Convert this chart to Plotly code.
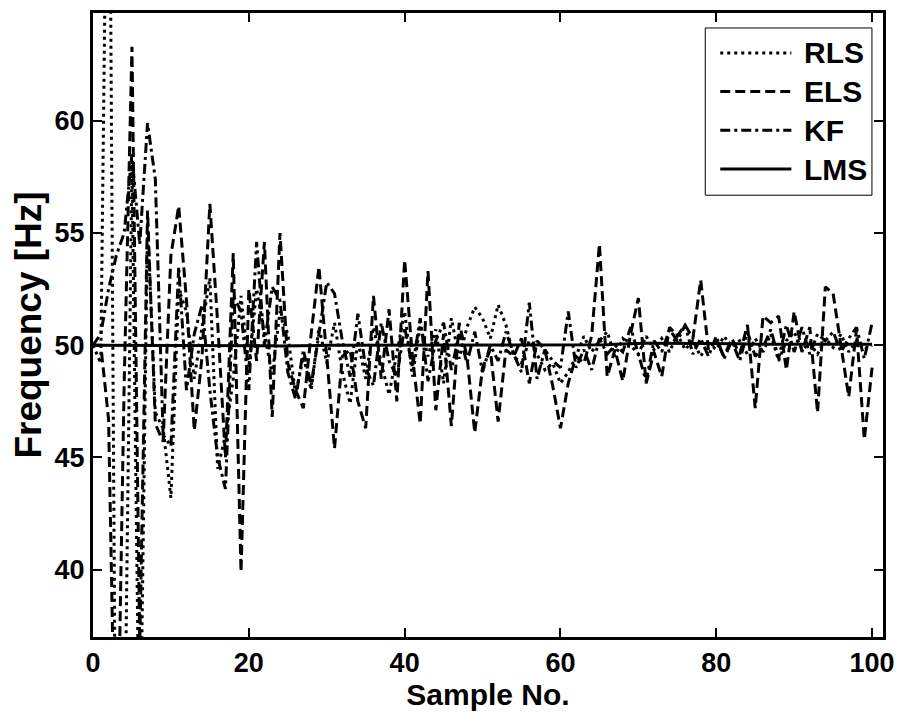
import plotly.graph_objects as go

samples = list(range(0, 101))

rls = [50.0, 49.2, 80.0, 25.0, 30.0, 58.2, 30.0, 55.5, 47.0, 46.3, 43.2,
       52.5, 51.5, 48.5, 50.8, 53.0, 44.5, 46.0, 48.5, 52.2, 49.0,
       52.5, 50.5, 48.7, 51.5, 50.5, 47.8, 49.5, 48.0, 50.8, 49.2,
       51.0, 48.8, 47.4, 50.2, 48.5, 50.8, 49.2, 47.8, 49.6, 51.5,
       48.6, 50.9, 49.5, 50.7, 48.3, 51.2, 49.4, 50.8, 51.7, 51.2,
       50.3, 51.8, 50.9, 49.5, 49.2, 50.2, 49.6, 48.9, 49.2, 48.3,
       48.8, 49.5, 50.4, 49.7, 50.2, 50.6, 49.5, 50.3, 50.0, 49.6,
       50.4, 49.8, 50.3, 49.7, 50.5, 49.8, 50.2, 49.5, 50.1, 49.8,
       50.4, 49.9, 50.2, 49.6, 50.3, 49.7, 50.5, 49.3, 50.2, 50.6,
       49.8, 50.1, 49.6, 50.3, 49.9, 50.5, 49.7, 50.2, 49.8, 50.0]

els = [50.0, 50.0, 46.7, 28.0, 48.3, 63.3, 36.5, 56.0, 46.5, 45.7, 54.0,
       56.2, 52.0, 46.2, 49.5, 56.3, 51.0, 45.0, 54.1, 39.9, 52.5,
       49.3, 54.6, 46.8, 55.0, 49.2, 48.0, 47.2, 50.5, 53.5, 49.5,
       45.4, 49.5, 49.8, 47.5, 46.3, 52.2, 48.5, 51.6, 47.5, 53.8,
       49.5, 46.5, 53.3, 47.1, 50.5, 46.4, 51.0, 49.5, 46.1, 49.0,
       49.8, 46.6, 49.8, 49.5, 50.3, 48.3, 50.2, 49.8, 48.2, 46.3,
       48.3, 49.5, 49.2, 50.4, 54.5, 48.6, 49.8, 48.4, 50.5, 52.1,
       48.3, 49.7, 48.6, 50.8, 50.4, 50.9, 50.3, 52.9, 49.8, 50.2,
       49.5, 50.3, 49.6, 50.9, 47.2, 51.3, 51.0, 51.3, 48.9, 51.5,
       49.7, 50.8, 47.0, 52.6, 52.3, 50.0, 47.7, 50.7, 45.8, 49.0]

kf = [50.0, 50.5, 52.5, 54.0, 55.0, 58.5, 54.5, 59.9, 57.4, 46.0, 45.5,
      53.5, 48.0, 50.5, 51.8, 48.0, 45.0, 43.6, 52.2, 51.5, 48.0,
      54.6, 50.0, 52.6, 52.0, 48.8, 47.6, 49.8, 48.2, 50.6, 52.8,
      52.3, 50.2, 48.6, 51.4, 49.0, 48.2, 51.0, 49.3, 48.6, 50.8,
      49.0, 51.2, 48.4, 50.2, 51.0, 48.9, 50.5, 49.2, 50.6, 48.8,
      50.0, 49.3, 50.6, 49.6, 48.8, 51.9, 48.5, 49.8, 49.3, 49.0,
      51.5, 49.0, 49.8, 48.9, 50.3, 49.6, 50.0, 49.7, 50.8, 49.6,
      48.4, 50.2, 49.7, 50.7, 50.2, 50.9, 49.6, 50.3, 49.5, 50.4,
      49.4, 50.2, 49.3, 50.6, 49.5, 49.9, 50.7, 49.4, 50.9, 49.7,
      50.8, 49.6, 50.5, 50.2, 50.6, 49.7, 50.3, 50.8, 49.4, 51.0]

lms = [50.0] * 22 + [49.98, 49.97, 49.96, 49.96, 49.96, 49.97, 49.98, 49.99] + [50.0] * 36 + \
      [50.02, 50.04, 50.06, 50.07, 50.08, 50.09, 50.09, 50.09, 50.09, 50.09, 50.09, 50.08,
       50.08, 50.08, 50.07, 50.07, 50.06, 50.06, 50.05] + [50.04] * 16

series_names = ["RLS", "ELS", "KF", "LMS"]
series_dash = ["3px,4px", "10px,5px", "10px,4px,3px,4px", "solid"]
series_values = [rls, els, kf, lms]

FONT = "Liberation Sans, Arial, sans-serif"

fig = go.Figure()
for name, vals, dash in zip(series_names, series_values, series_dash):
    fig.add_trace(go.Scatter(x=samples, y=vals, mode="lines", name=name,
                             line=dict(color="black", width=3, dash=dash),
                             showlegend=False))

# custom legend box
shapes = [dict(type="rect", xref="paper", yref="paper", x0=0.775, x1=0.986, y0=0.708, y1=0.976,
               line=dict(color="black", width=1), fillcolor="white", layer="above")]
annots = []
ys = [0.936, 0.874, 0.812, 0.750]
for name, dash, yy in zip(series_names, series_dash, ys):
    shapes.append(dict(type="line", xref="paper", yref="paper", x0=0.794, x1=0.884, y0=yy, y1=yy,
                       line=dict(color="black", width=3, dash=dash), layer="above"))
    annots.append(dict(xref="paper", yref="paper", x=0.897, y=yy, text=name, showarrow=False,
                       xanchor="left", yanchor="middle",
                       font=dict(family=FONT, size=30, color="black", weight="bold")))

axis_common = dict(showline=True, linecolor="black", linewidth=3, mirror="ticks",
                   ticks="inside", ticklen=9, tickwidth=2, tickcolor="black",
                   showgrid=False, zeroline=False,
                   tickfont=dict(family=FONT, size=27, color="black", weight="bold"))

fig.update_layout(
    width=905, height=713,
    margin=dict(l=93, r=16, t=10, b=76),
    paper_bgcolor="white", plot_bgcolor="white",
    xaxis=dict(range=[0, 101.4], tickvals=[0, 20, 40, 60, 80, 100],
               title=dict(text="Sample No.", standoff=3,
                          font=dict(family=FONT, size=30, color="black", weight="bold")),
               **axis_common),
    yaxis=dict(range=[37.0, 64.8], tickvals=[40, 45, 50, 55, 60],
               title=dict(text="Frequency [Hz]", standoff=2,
                          font=dict(family=FONT, size=37, color="black", weight="bold")),
               **axis_common),
    shapes=shapes, annotations=annots,
)

fig.write_html("out.html")
